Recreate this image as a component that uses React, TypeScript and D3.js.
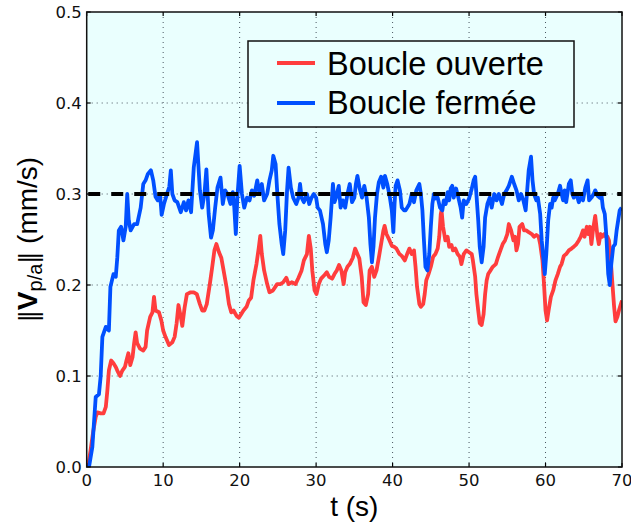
import { useEffect, useRef } from "react";
import * as d3 from 'd3'

// open loop (red)
const tOpen = [0, 0.17, 0.5, 0.87, 1.18, 1.4, 1.83, 2.2, 2.5, 2.7, 2.9, 3.2, 3.5, 3.8, 4.0, 4.36, 4.66, 5.0, 5.2, 5.45, 5.7, 6.0, 6.2, 6.4, 6.6, 6.97, 7.4, 7.7, 7.9, 8.3, 8.6, 8.8, 9.0, 9.45, 9.76, 10.0, 10.3, 10.76, 11.2, 11.5, 11.76, 12.0, 12.3, 12.5, 12.8, 13.1, 13.6, 14.0, 14.4, 14.8, 15.1, 15.4, 15.7, 16.1, 16.4, 16.7, 16.96, 17.3, 17.6, 17.9, 18.3, 18.6, 18.9, 19.2, 19.6, 19.9, 20.2, 20.5, 20.9, 21.2, 21.5, 21.8, 22.2, 22.5, 22.7, 22.9, 23.2, 23.6, 23.9, 24.35, 24.9, 25.3, 25.7, 26.1, 26.4, 26.8, 27.3, 27.7, 28.1, 28.4, 28.8, 29.05, 29.3, 29.5, 29.8, 30.05, 30.35, 30.65, 31.1, 31.4, 31.7, 32.1, 32.4, 32.7, 33.0, 33.3, 33.6, 33.8, 34.1, 34.4, 34.8, 35.1, 35.4, 35.65, 35.96, 36.2, 36.5, 36.8, 37.0, 37.3, 37.6, 37.9, 38.2, 38.5, 38.8, 38.96, 39.2, 39.6, 39.9, 40.2, 40.5, 40.9, 41.2, 41.6, 41.9, 42.2, 42.5, 42.8, 43.0, 43.2, 43.5, 43.7, 44.0, 44.2, 44.4, 44.7, 45.0, 45.3, 45.6, 45.9, 46.1, 46.3, 46.4, 46.6, 46.9, 47.2, 47.4, 47.7, 47.9, 48.2, 48.5, 48.8, 49.0, 49.3, 49.65, 50.0, 50.35, 50.5, 50.8, 50.96, 51.2, 51.4, 51.65, 51.9, 52.1, 52.3, 52.5, 52.8, 53.1, 53.5, 53.8, 54.1, 54.4, 54.7, 55.0, 55.2, 55.5, 55.8, 56.0, 56.2, 56.4, 56.6, 56.95, 57.2, 57.5, 57.8, 58.2, 58.5, 58.8, 59.1, 59.3, 59.6, 59.8, 60.0, 60.2, 60.4, 60.7, 61.0, 61.3, 61.6, 61.9, 62.1, 62.4, 62.7, 63.05, 63.4, 63.7, 64.05, 64.35, 64.6, 64.9, 65.1, 65.4, 65.6, 65.8, 66.0, 66.2, 66.5, 66.8, 66.97, 67.2, 67.4, 67.7, 67.9, 68.1, 68.3, 68.5, 68.75, 68.97, 69.15, 69.4, 69.6, 69.85, 70]
const vOpen = [0, 0.0, 0.018, 0.04, 0.055, 0.06, 0.059, 0.059, 0.066, 0.084, 0.106, 0.117, 0.114, 0.11, 0.106, 0.10, 0.106, 0.11, 0.117, 0.125, 0.112, 0.121, 0.136, 0.148, 0.136, 0.13, 0.128, 0.132, 0.15, 0.165, 0.17, 0.187, 0.172, 0.17, 0.161, 0.15, 0.143, 0.134, 0.137, 0.143, 0.158, 0.178, 0.165, 0.155, 0.175, 0.19, 0.192, 0.192, 0.19, 0.179, 0.172, 0.172, 0.179, 0.201, 0.219, 0.238, 0.245, 0.236, 0.23, 0.216, 0.197, 0.179, 0.17, 0.172, 0.166, 0.164, 0.168, 0.172, 0.176, 0.183, 0.186, 0.205, 0.223, 0.241, 0.254, 0.234, 0.216, 0.201, 0.192, 0.194, 0.201, 0.201, 0.203, 0.208, 0.201, 0.203, 0.201, 0.208, 0.216, 0.227, 0.234, 0.254, 0.24, 0.216, 0.194, 0.19, 0.201, 0.207, 0.211, 0.214, 0.209, 0.207, 0.212, 0.216, 0.222, 0.216, 0.201, 0.214, 0.22, 0.223, 0.23, 0.24, 0.234, 0.229, 0.209, 0.181, 0.178, 0.19, 0.216, 0.22, 0.209, 0.216, 0.23, 0.245, 0.26, 0.265, 0.256, 0.249, 0.243, 0.242, 0.24, 0.234, 0.232, 0.227, 0.234, 0.24, 0.234, 0.238, 0.22, 0.198, 0.179, 0.176, 0.179, 0.19, 0.205, 0.212, 0.22, 0.231, 0.234, 0.24, 0.253, 0.278, 0.282, 0.264, 0.249, 0.253, 0.242, 0.244, 0.238, 0.24, 0.234, 0.231, 0.223, 0.234, 0.238, 0.236, 0.234, 0.227, 0.209, 0.19, 0.172, 0.158, 0.156, 0.168, 0.19, 0.205, 0.212, 0.216, 0.22, 0.223, 0.231, 0.238, 0.245, 0.249, 0.256, 0.267, 0.26, 0.249, 0.253, 0.238, 0.245, 0.264, 0.267, 0.26, 0.26, 0.258, 0.256, 0.253, 0.255, 0.253, 0.245, 0.227, 0.201, 0.172, 0.161, 0.172, 0.187, 0.194, 0.205, 0.212, 0.22, 0.223, 0.232, 0.234, 0.238, 0.24, 0.242, 0.245, 0.249, 0.253, 0.26, 0.253, 0.264, 0.256, 0.264, 0.245, 0.26, 0.276, 0.253, 0.245, 0.256, 0.253, 0.256, 0.253, 0.253, 0.249, 0.231, 0.201, 0.176, 0.16, 0.165, 0.172, 0.179, 0.183]

// closed loop (blue)
const tClosed = [0, 0.3, 0.74, 1.18, 1.6, 1.83, 2.05, 2.5, 2.9, 3.1, 3.5, 3.8, 4.0, 4.2, 4.5, 4.8, 5.1, 5.3, 5.5, 5.75, 6.2, 6.6, 7.06, 7.4, 7.7, 8.0, 8.4, 8.7, 9.0, 9.3, 9.6, 9.8, 10.1, 10.5, 10.8, 11.0, 11.2, 11.5, 11.85, 12.3, 12.7, 13.0, 13.3, 13.65, 14.0, 14.43, 14.8, 15.1, 15.4, 15.65, 15.95, 16.26, 16.5, 16.8, 17.1, 17.5, 17.8, 18.1, 18.4, 18.8, 19.1, 19.3, 19.5, 19.7, 20.0, 20.3, 20.6, 20.96, 21.3, 21.6, 21.9, 22.3, 22.6, 22.9, 23.2, 23.6, 23.9, 24.2, 24.4, 24.7, 24.96, 25.2, 25.5, 25.7, 25.96, 26.2, 26.4, 26.7, 27.0, 27.4, 27.7, 27.9, 28.1, 28.4, 28.8, 29.1, 29.4, 29.7, 30.0, 30.2, 30.5, 30.9, 31.2, 31.4, 31.65, 31.9, 32.2, 32.4, 32.6, 32.96, 33.2, 33.5, 33.8, 34.1, 34.4, 34.7, 35.0, 35.2, 35.4, 35.7, 36.0, 36.3, 36.6, 36.9, 37.1, 37.3, 37.5, 37.7, 37.96, 38.2, 38.5, 38.8, 39.0, 39.3, 39.65, 39.9, 40.1, 40.26, 40.4, 40.65, 40.96, 41.2, 41.5, 41.7, 42.2, 42.5, 42.8, 43.1, 43.5, 43.7, 43.9, 44.1, 44.3, 44.55, 44.8, 45.0, 45.2, 45.4, 45.6, 45.9, 46.2, 46.5, 46.7, 46.95, 47.2, 47.4, 47.6, 47.8, 48.0, 48.3, 48.6, 48.9, 49.1, 49.3, 49.65, 50.0, 50.3, 50.6, 50.8, 50.96, 51.2, 51.4, 51.65, 51.9, 52.1, 52.4, 52.7, 52.96, 53.3, 53.6, 53.9, 54.3, 54.6, 54.9, 55.2, 55.6, 55.9, 56.2, 56.5, 56.8, 57.1, 57.4, 57.6, 57.8, 58.1, 58.3, 58.5, 58.8, 59.0, 59.3, 59.5, 59.7, 59.9, 60.1, 60.35, 60.6, 60.8, 61.0, 61.2, 61.6, 61.9, 62.1, 62.3, 62.5, 62.7, 63.05, 63.3, 63.5, 63.7, 64.05, 64.35, 64.6, 64.9, 65.2, 65.5, 65.7, 66.0, 66.3, 66.5, 66.8, 67.1, 67.3, 67.5, 67.75, 67.97, 68.2, 68.4, 68.6, 68.85, 69.1, 69.3, 69.5, 69.7, 69.95]
const vClosed = [0, 0.0, 0.022, 0.077, 0.08, 0.10, 0.143, 0.154, 0.15, 0.198, 0.212, 0.209, 0.23, 0.26, 0.264, 0.249, 0.264, 0.30, 0.271, 0.26, 0.267, 0.267, 0.285, 0.311, 0.315, 0.322, 0.326, 0.315, 0.297, 0.293, 0.299, 0.277, 0.289, 0.30, 0.308, 0.326, 0.30, 0.293, 0.291, 0.28, 0.291, 0.282, 0.293, 0.28, 0.329, 0.357, 0.304, 0.285, 0.30, 0.327, 0.278, 0.252, 0.26, 0.285, 0.307, 0.318, 0.289, 0.304, 0.30, 0.289, 0.302, 0.285, 0.256, 0.296, 0.331, 0.30, 0.285, 0.296, 0.293, 0.304, 0.298, 0.315, 0.30, 0.311, 0.293, 0.30, 0.315, 0.326, 0.342, 0.333, 0.296, 0.267, 0.245, 0.234, 0.26, 0.304, 0.329, 0.307, 0.296, 0.289, 0.296, 0.311, 0.296, 0.291, 0.30, 0.289, 0.296, 0.30, 0.296, 0.285, 0.282, 0.267, 0.245, 0.236, 0.249, 0.274, 0.311, 0.291, 0.296, 0.309, 0.285, 0.293, 0.285, 0.30, 0.311, 0.291, 0.296, 0.311, 0.32, 0.306, 0.296, 0.309, 0.296, 0.274, 0.245, 0.225, 0.242, 0.274, 0.30, 0.313, 0.319, 0.307, 0.32, 0.311, 0.296, 0.282, 0.258, 0.289, 0.309, 0.315, 0.304, 0.285, 0.282, 0.282, 0.289, 0.30, 0.291, 0.304, 0.311, 0.30, 0.282, 0.249, 0.22, 0.216, 0.234, 0.264, 0.289, 0.30, 0.295, 0.296, 0.285, 0.282, 0.293, 0.289, 0.302, 0.293, 0.306, 0.309, 0.296, 0.306, 0.296, 0.285, 0.274, 0.293, 0.289, 0.295, 0.304, 0.315, 0.319, 0.30, 0.271, 0.242, 0.225, 0.242, 0.274, 0.289, 0.296, 0.285, 0.30, 0.293, 0.30, 0.289, 0.30, 0.304, 0.309, 0.319, 0.311, 0.304, 0.293, 0.30, 0.293, 0.282, 0.304, 0.326, 0.341, 0.315, 0.30, 0.293, 0.296, 0.278, 0.249, 0.231, 0.212, 0.234, 0.271, 0.289, 0.285, 0.296, 0.293, 0.30, 0.309, 0.30, 0.293, 0.304, 0.291, 0.311, 0.315, 0.30, 0.296, 0.30, 0.291, 0.296, 0.293, 0.307, 0.315, 0.293, 0.296, 0.30, 0.304, 0.298, 0.296, 0.30, 0.285, 0.278, 0.252, 0.212, 0.20, 0.223, 0.242, 0.245, 0.26, 0.271, 0.282, 0.285]

const xTicks = [0, 10, 20, 30, 40, 50, 60, 70]
const yTicks = [0.0, 0.1, 0.2, 0.3, 0.4, 0.5]
const target = 0.3
const legendNames = ['Boucle ouverte', 'Boucle fermée']
const colors = ['#ff3d3d', '#0050ff']

const W = 631
const H = 524
const left = 86.7, right = 622, top = 12, bottom = 467
const bg = '#eafffe'

export default function App() {
    const svgRef = useRef<SVGSVGElement>(null)

    useEffect(() => {
        const svg = d3.select(svgRef.current)
        svg.selectAll('*').remove()

        const x = d3.scaleLinear().domain([0, 70]).range([left, right])
        const y = d3.scaleLinear().domain([0, 0.5]).range([bottom, top])

        svg.append('rect')
            .attr('x', left).attr('y', top)
            .attr('width', right - left).attr('height', bottom - top)
            .attr('fill', bg)

        svg.append('clipPath').attr('id', 'plot')
            .append('rect')
            .attr('x', left).attr('y', top)
            .attr('width', right - left).attr('height', bottom - top)

        // dotted grid
        const grid = svg.append('g')
            .attr('stroke', '#4a5560')
            .attr('stroke-width', 1)
            .attr('stroke-dasharray', '1,4')
        grid.selectAll('.gx')
            .data(xTicks.slice(1, -1))
            .join('line')
            .attr('x1', d => x(d)).attr('x2', d => x(d))
            .attr('y1', top).attr('y2', bottom)
        grid.selectAll('.gy')
            .data(yTicks.slice(1, -1))
            .join('line')
            .attr('class', 'gy')
            .attr('x1', left).attr('x2', right)
            .attr('y1', d => y(d)).attr('y2', d => y(d))

        const plotLine = (ts: number[], vs: number[], color: string) => {
            const l = d3.line<number>()
                .x((d) => x(d))
                .y((d, i) => y(vs[i]))
            svg.append('path')
                .attr('d', l(ts))
                .attr('fill', 'none')
                .attr('stroke', color)
                .attr('stroke-width', 3.8)
                .attr('stroke-linejoin', 'round')
                .attr('clip-path', 'url(#plot)')
        }
        plotLine(tOpen, vOpen, colors[0])
        plotLine(tClosed, vClosed, colors[1])

        // target line
        svg.append('line')
            .attr('x1', x(0.2)).attr('x2', right)
            .attr('y1', y(target)).attr('y2', y(target))
            .attr('stroke', 'black')
            .attr('stroke-width', 4)
            .attr('stroke-dasharray', '12,11')

        // frame + inward ticks
        const axes = svg.append('g').attr('stroke', 'black').attr('stroke-width', 1.2)
        axes.selectAll('.tx')
            .data(xTicks)
            .join('line')
            .attr('x1', d => x(d)).attr('x2', d => x(d))
            .attr('y1', bottom).attr('y2', bottom - 4)
        axes.selectAll('.tx2')
            .data(xTicks)
            .join('line')
            .attr('class', 'tx2')
            .attr('x1', d => x(d)).attr('x2', d => x(d))
            .attr('y1', top).attr('y2', top + 4)
        axes.selectAll('.ty')
            .data(yTicks)
            .join('line')
            .attr('class', 'ty')
            .attr('x1', left).attr('x2', left + 4)
            .attr('y1', d => y(d)).attr('y2', d => y(d))
        axes.selectAll('.ty2')
            .data(yTicks)
            .join('line')
            .attr('class', 'ty2')
            .attr('x1', right).attr('x2', right - 4)
            .attr('y1', d => y(d)).attr('y2', d => y(d))
        svg.append('rect')
            .attr('x', left).attr('y', top)
            .attr('width', right - left).attr('height', bottom - top)
            .attr('fill', 'none')
            .attr('stroke', '#111')
            .attr('stroke-width', 1.5)

        // tick labels
        svg.append('g')
            .selectAll('text')
            .data(xTicks)
            .join('text')
            .attr('x', d => x(d))
            .attr('y', bottom + 18.5)
            .attr('text-anchor', 'middle')
            .attr('font-family', 'DejaVu Sans')
            .attr('font-size', 16.5)
            .attr('fill', '#111')
            .text(d => d)
        svg.append('g')
            .selectAll('text')
            .data(yTicks)
            .join('text')
            .attr('x', left - 5)
            .attr('y', d => y(d) + 6)
            .attr('text-anchor', 'end')
            .attr('font-family', 'DejaVu Sans')
            .attr('font-size', 16.5)
            .attr('fill', '#111')
            .text(d => d3.format('.1f')(d))

        // axis titles
        svg.append('text')
            .attr('x', (left + right) / 2)
            .attr('y', 516)
            .attr('text-anchor', 'middle')
            .attr('font-family', 'Liberation Sans')
            .attr('font-size', 28)
            .text('t (s)')

        const yl = svg.append('text')
            .attr('transform', `translate(37,${(top + bottom) / 2}) rotate(-90)`)
            .attr('text-anchor', 'middle')
            .attr('font-family', 'Liberation Sans')
            .attr('font-size', 28)
        yl.append('tspan').attr('font-family', 'DejaVu Sans').attr('font-size', 24).text('\u2016')
        yl.append('tspan').attr('font-weight', 'bold').text('V')
        yl.append('tspan').attr('font-size', 20).attr('dy', 5).text('p/a')
        yl.append('tspan').attr('font-family', 'DejaVu Sans').attr('font-size', 24).attr('dy', -5).text('\u2016')
        yl.append('tspan').text(' (mm/s)')

        // legend
        const lg = svg.append('g')
        lg.append('rect')
            .attr('x', 248).attr('y', 41)
            .attr('width', 326).attr('height', 86)
            .attr('fill', bg)
            .attr('stroke', '#111')
            .attr('stroke-width', 1.5)
        legendNames.forEach((name, i) => {
            lg.append('line')
                .attr('x1', 277).attr('x2', 315)
                .attr('y1', 63 + i * 40).attr('y2', 63 + i * 40)
                .attr('stroke', colors[i])
                .attr('stroke-width', 4)
            lg.append('text')
                .attr('x', 327)
                .attr('y', 75 + i * 38.5)
                .attr('font-family', 'Liberation Sans')
                .attr('font-size', 32.5)
                .text(name)
        })
    }, [])

    return (
        <svg ref={svgRef} width={W} height={H}
            style={{ position: 'absolute', left: 0, top: 0, background: 'white' }} />
    )
}
